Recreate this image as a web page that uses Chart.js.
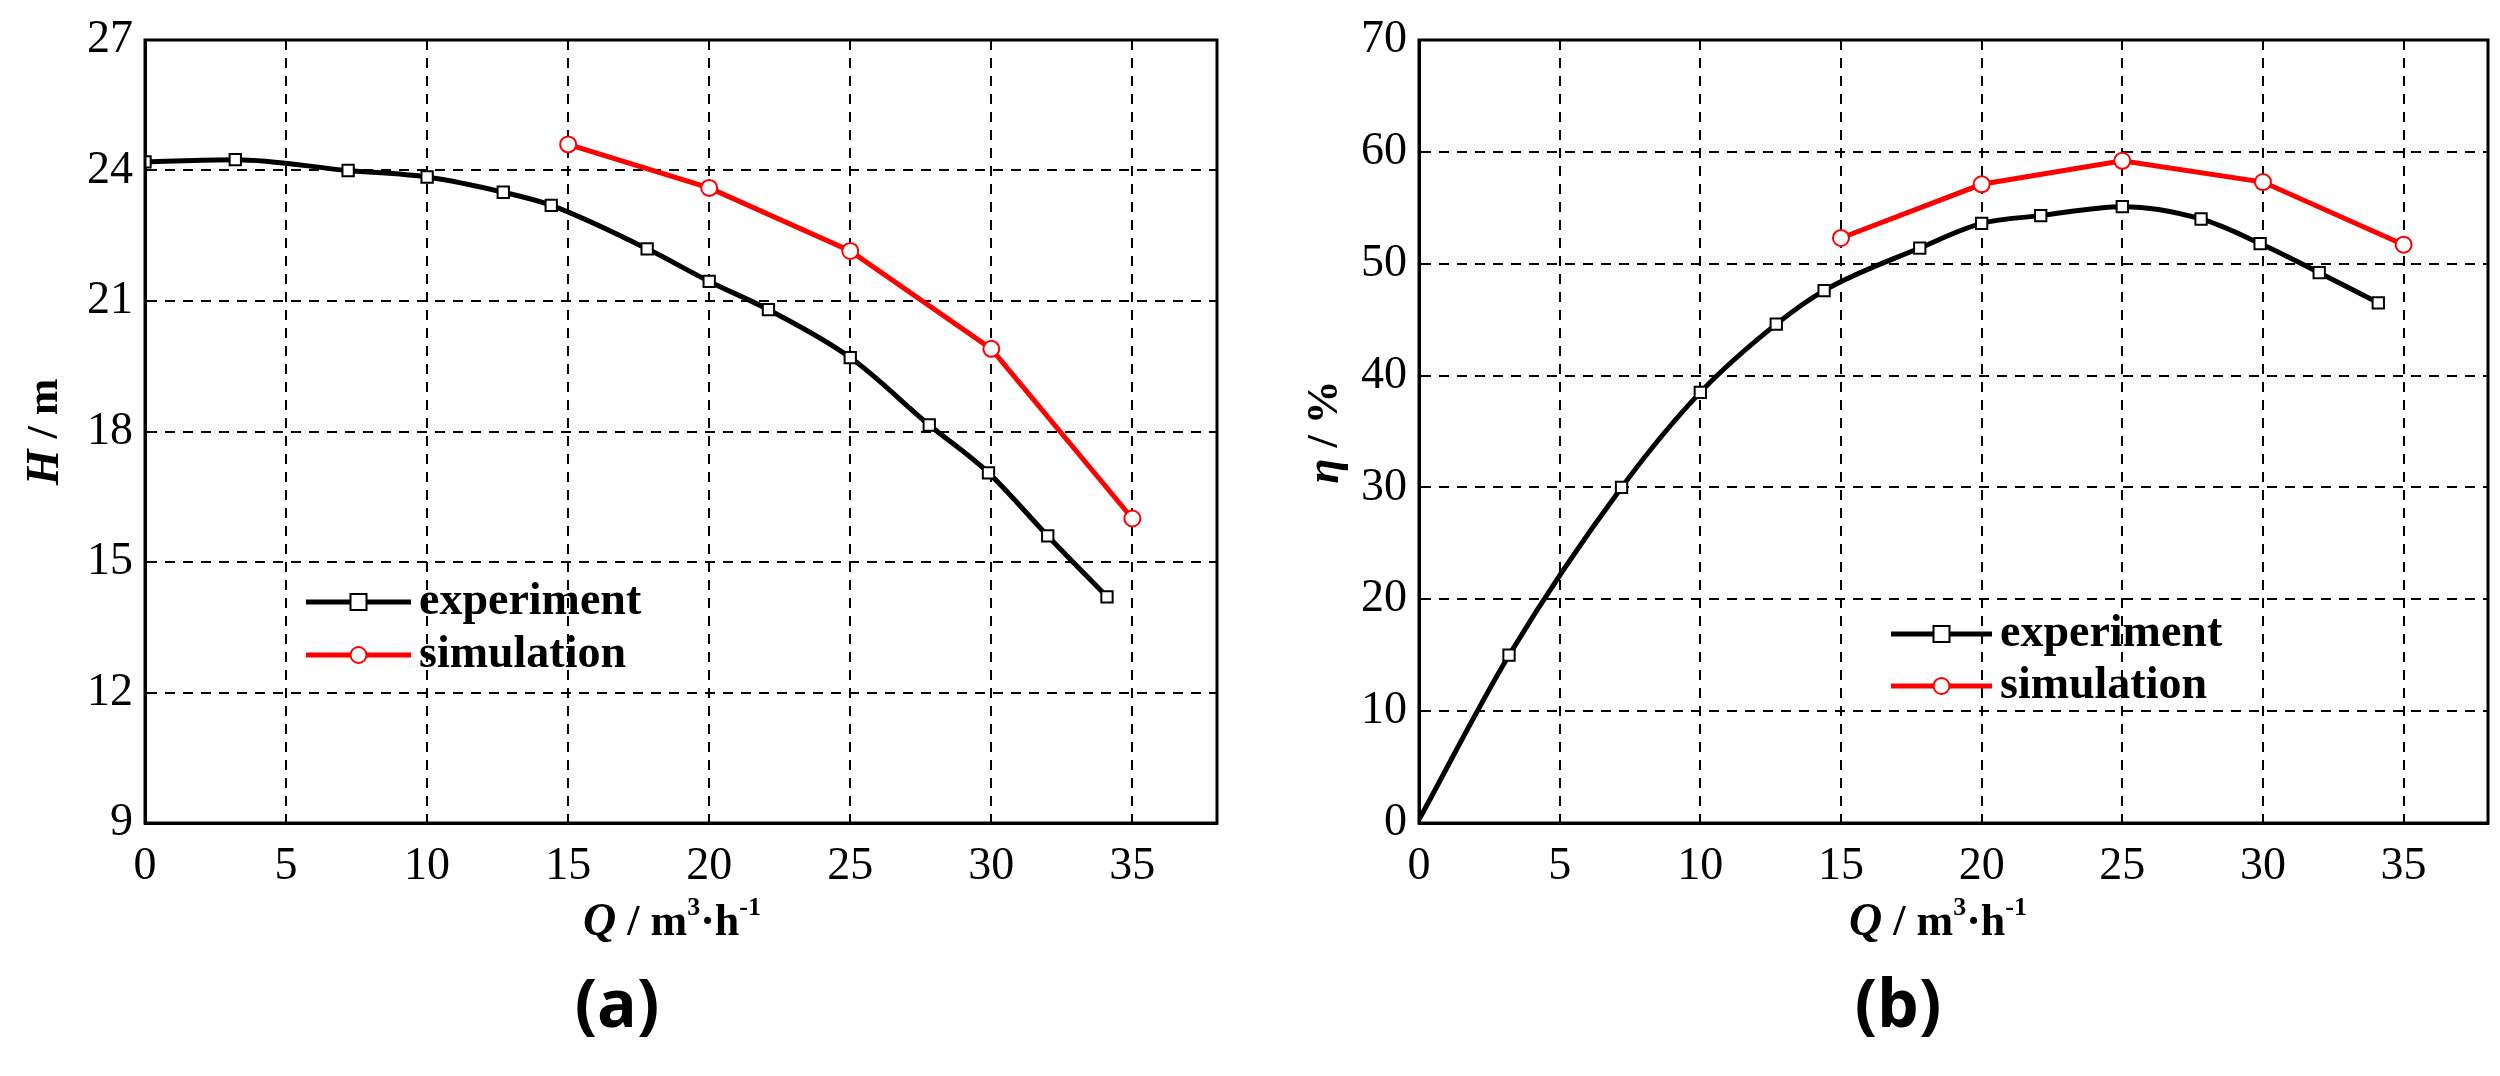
<!DOCTYPE html>
<html><head><meta charset="utf-8">
<script src="https://cdn.jsdelivr.net/npm/chart.js@4"></script>
<style>
html,body{margin:0;padding:0;background:#fff;width:2500px;height:1076px;overflow:hidden}
.w{position:absolute;top:0;width:1250px;height:1076px}
</style></head><body>
<div class="w" style="left:0"><canvas id="ca"></canvas></div>
<div class="w" style="left:1250px"><canvas id="cb"></canvas></div>
<script>
const expQ = [0, 3.2, 7.2, 10, 12.7, 14.4, 17.8, 20, 22.1, 25, 27.8, 29.9, 32, 34.1];
const expH = [24.2, 24.25, 24.0, 23.85, 23.5, 23.2, 22.2, 21.45, 20.8, 19.7, 18.15, 17.05, 15.6, 14.2];
const expEta = [0.3, 15, 30, 38.5, 44.6, 47.6, 51.4, 53.6, 54.3, 55.1, 54.0, 51.8, 49.2, 46.5];
const simQ = [15, 20, 25, 30, 35];
const simH = [24.6, 23.6, 22.15, 19.9, 16.0];
const simEta = [52.3, 57.1, 59.2, 57.3, 51.7];
const xTicks = [0, 5, 10, 15, 20, 25, 30, 35];
const hTicks = [9, 12, 15, 18, 21, 24, 27];
const etaTicks = [0, 10, 20, 30, 40, 50, 60, 70];
const seriesNames = ['experiment', 'simulation'];

const SERIF = '"Liberation Serif", "Times New Roman", serif';

function makeChart(id, yVals, simVals, yTicks, opt) {
  const pts = (xs, ys) => xs.map((x, i) => ({x, y: ys[i]}));
  const deco = {
    id: 'deco',
    afterDraw(c) {
      const g = c.ctx, a = c.chartArea;
      g.save();
      g.strokeStyle = '#000'; g.lineWidth = 3; g.setLineDash([]);
      g.strokeRect(a.left, a.top, a.right - a.left, a.bottom - a.top);
      g.fillStyle = '#000';
      g.textBaseline = 'alphabetic';
      const tx = opt.xTitleX, ty = 935;
      let parts = [['italic bold 46px ' + SERIF, 'Q', 0], ['bold 44px ' + SERIF, ' / m', 0], ['bold 26px ' + SERIF, '3', -20], ['bold 44px ' + SERIF, '·h', 0], ['bold 26px ' + SERIF, '-1', -20]];
      let tw = 0; parts.forEach(p => { g.font = p[0]; tw += g.measureText(p[1]).width; });
      let cx = tx - tw / 2; g.textAlign = 'left';
      parts.forEach(p => { g.font = p[0]; g.fillText(p[1], cx, ty + p[2]); cx += g.measureText(p[1]).width; });
      g.save(); g.translate(opt.yTitleX, opt.yTitleY); g.rotate(-Math.PI / 2);
      const yp = opt.yParts; tw = 0; yp.forEach(p => { g.font = p[0]; tw += g.measureText(p[1]).width; });
      cx = -tw / 2; g.textBaseline = 'middle';
      yp.forEach(p => { g.font = p[0]; g.fillText(p[1], cx, 0); cx += g.measureText(p[1]).width; });
      g.restore();
      g.font = 'bold 66px "Open Sans", Lato, sans-serif'; g.textAlign = 'center'; g.textBaseline = 'middle';
      g.fillText(opt.panel, opt.panelX, 1008);
      const L = opt.legend;
      c.data.datasets.forEach((ds, i) => {
        const y = L.y + i * L.dy;
        g.strokeStyle = ds.borderColor; g.lineWidth = 5;
        g.beginPath(); g.moveTo(L.x0, y); g.lineTo(L.x1, y); g.stroke();
        g.fillStyle = '#fff'; g.lineWidth = 2;
        const mx = (L.x0 + L.x1) / 2;
        g.beginPath();
        if (i === 0) g.rect(mx - 8, y - 8, 16, 16); else g.arc(mx, y, 8, 0, Math.PI * 2);
        g.fill(); g.stroke();
        g.fillStyle = '#000'; g.font = 'bold 46px ' + SERIF; g.textAlign = 'left'; g.textBaseline = 'middle';
        g.fillText(ds.label, L.x1 + 8, y);
      });
      g.restore();
    }
  };
  return new Chart(document.getElementById(id), {
    type: 'line',
    data: { datasets: [
      { label: seriesNames[0], data: pts(expQ, yVals), borderColor: '#000', borderWidth: 5,
        pointStyle: 'rect', pointRadius: opt.expRadius, pointBackgroundColor: '#fff', pointBorderColor: '#000', pointBorderWidth: 2,
        cubicInterpolationMode: 'monotone' },
      { label: seriesNames[1], data: pts(simQ, simVals), borderColor: '#ff0000', borderWidth: 5,
        pointStyle: 'circle', pointRadius: 8, pointBackgroundColor: '#fff', pointBorderColor: '#ff0000', pointBorderWidth: 2,
        tension: 0 }
    ]},
    options: {
      responsive: false, animation: false, devicePixelRatio: 1,
      layout: { padding: { top: 40, right: opt.padRight, left: 0, bottom: 0 } },
      plugins: { legend: { display: false }, tooltip: { enabled: false } },
      scales: {
        x: { type: 'linear', min: 0, max: 38,
          afterBuildTicks: s => { s.ticks = xTicks.map(v => ({value: v})); },
          afterFit: s => { s.height = 1076 - 823; },
          grid: { color: '#000', lineWidth: 2, drawTicks: false, tickLength: 0 },
          border: { display: true, color: '#000', width: 3, dash: [10, 8] },
          ticks: { padding: 16, color: '#000', font: { family: SERIF, size: 46 }, maxRotation: 0 } },
        y: { type: 'linear', min: yTicks[0], max: yTicks[yTicks.length - 1],
          afterBuildTicks: s => { s.ticks = yTicks.map(v => ({value: v})); },
          afterFit: s => { s.width = opt.yWidth; },
          grid: { color: '#000', lineWidth: 2, drawTicks: false, tickLength: 0 },
          border: { display: true, color: '#000', width: 3, dash: [10, 8] },
          ticks: { padding: 12, color: '#000', font: { family: SERIF, size: 46 } } }
      }
    },
    plugins: [deco]
  });
}
function setup(id) { const c = document.getElementById(id); c.width = 1250; c.height = 1076; }
setup('ca'); setup('cb');

makeChart('ca', expH, simH, hTicks, {
  yWidth: 145, padRight: 33, xTitleX: 672, yTitleX: 46, yTitleY: 432,
  yParts: [['italic bold 46px ' + SERIF, 'H'], ['bold 44px ' + SERIF, ' / m']],
  panel: '(a)', panelX: 617, expRadius: 8,
  legend: { x0: 306, x1: 411, y: 602, dy: 53 }
});
makeChart('cb', expEta, simEta, etaTicks, {
  yWidth: 169, padRight: 12, xTitleX: 688, yTitleX: 76, yTitleY: 432,
  yParts: [['italic bold 46px ' + SERIF, 'η'], ['bold 44px ' + SERIF, ' / %']],
  panel: '(b)', panelX: 648, expRadius: expQ.map(q => q === 0 ? 0 : 8),
  legend: { x0: 641, x1: 742, y: 634, dy: 52 }
});
</script></body></html>
